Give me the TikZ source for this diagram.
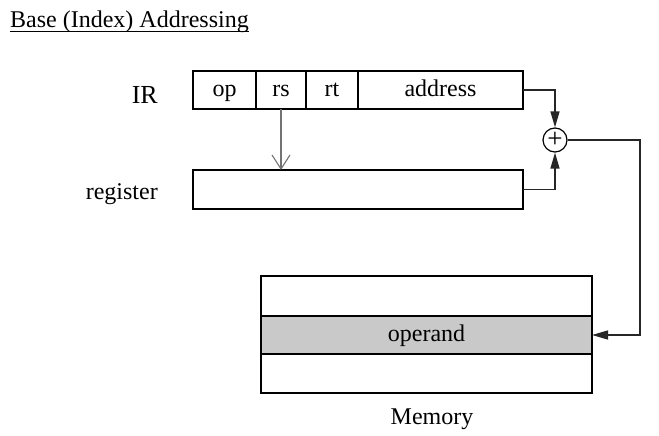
\documentclass[tikz,border=0pt]{standalone}
\usepackage{fontspec}
\setmainfont{Liberation Serif}
\usetikzlibrary{arrows.meta,calc}
\begin{document}
\begin{tikzpicture}[x=1pt,y=-1pt,
  field/.style={draw,line width=1.1pt,inner sep=0pt,outer sep=0pt,minimum height=38pt,font=\fontsize{24}{24}\selectfont,text height=15pt,text depth=3pt},
  conn/.style={line width=1.3pt,draw=black!85},
  tip/.style={-{Triangle[length=16pt,width=9pt]}},
  lbl/.style={font=\fontsize{24}{24}\selectfont}]
\useasboundingbox (0,0) rectangle (659,436);
% title
\node[lbl,anchor=base west,inner sep=0pt] (title) at (10,28) {Base (Index) Addressing};
\draw[line width=0.9pt] (title.base west)++(0,3.5) -- ($(title.base east)+(0,3.5)$);
% IR
\node[lbl,anchor=base east,inner sep=0pt,font=\fontsize{26}{26}\selectfont] (irl) at (158,103) {IR};
\node[field,minimum width=63pt,anchor=west] (op) at (193,90) {op};
\node[field,minimum width=50pt,anchor=west] (rs) at (op.east) {rs};
\node[field,minimum width=52pt,anchor=west] (rt) at (rs.east) {rt};
\node[field,minimum width=165pt,anchor=west] (addr) at (rt.east) {address};
% register
\node[lbl,anchor=base east,inner sep=0pt] (regl) at (158,199) {register};
\node[field,minimum width=330pt,minimum height=39pt,anchor=west] (reg) at (193,189.5) {};
% adder
\node[draw,circle,line width=1.2pt,minimum size=24pt,inner sep=0pt,font=\fontsize{27}{27}\selectfont] (plus) at (555,140) {+};
% memory
\node[field,minimum width=331pt,minimum height=40pt,anchor=north west] (mtop) at (261,276) {};
\node[field,minimum width=331pt,minimum height=38pt,anchor=north west,fill=gray!42] (operand) at (mtop.south west) {operand};
\node[field,minimum width=331pt,minimum height=39pt,anchor=north west] (mbot) at (operand.south west) {};
\node[lbl,anchor=center] (meml) at (432,419) {Memory};
% connectors
\draw[conn,tip] (addr.east) -- (plus.north |- addr.east) -- (plus.north);
\draw[conn,tip] (reg.east) -- (plus.south |- reg.east) -- (plus.south);
\coordinate (c1) at (640,140);
\draw[conn,tip] (plus.east) -- (c1) -- (c1 |- operand.east) -- (operand.east);
\draw[line width=1.1pt,draw=black!55,-{Straight Barb[length=14pt,width=18pt,line width=1.1pt]}] (rs.south) -- (rs.south |- reg.north);
\end{tikzpicture}
\end{document}
